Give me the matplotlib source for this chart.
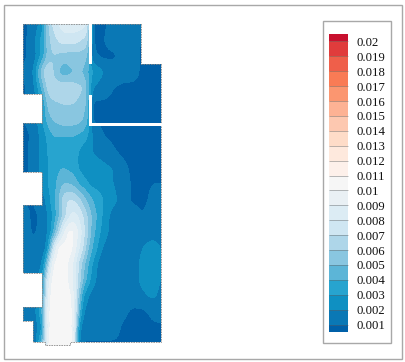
#!/usr/bin/env python3

import numpy as np
import matplotlib
matplotlib.use('Agg') # For headless use.
import matplotlib.pyplot as plt
from matplotlib.patches import Polygon, Rectangle
from matplotlib.colors import ListedColormap, BoundaryNorm


# DATA (positions in picture pixels, values in units of 0.001)
x_grid = [23, 33, 43, 48, 53, 58, 63, 68, 73, 78, 83, 88, 92, 103, 113, 123, 133, 143, 153, 163]
y_grid = [24, 40, 56, 72, 88, 104, 120, 136, 152, 168, 184, 200, 216, 232, 248,
          264, 280, 296, 312, 328, 345]
field = [
    [0.7, 1.3, 2.5, 6.0, 7.2, 8.0, 8.5, 8.6, 8.6, 8.6, 8.5, 7.5, 0.8, 0.8, 1.3, 1.5, 1.5, 0.8, 0.8, 0.8],
    [0.7, 1.5, 3.5, 5.5, 6.5, 7.0, 7.5, 7.5, 7.5, 7.2, 6.8, 6.5, 0.9, 0.9, 1.5, 1.5, 1.5, 0.8, 0.8, 0.8],
    [0.8, 1.3, 3.5, 5.5, 6.0, 5.8, 5.5, 5.5, 5.5, 5.5, 5.5, 5.0, 1.2, 0.8, 0.8, 1.4, 1.4, 0.8, 0.8, 0.8],
    [1.0, 1.8, 6.0, 7.0, 6.0, 5.0, 4.3, 4.5, 5.0, 5.0, 5.0, 4.0, 3.0, 2.0, 1.5, 1.4, 1.3, 0.8, 0.8, 0.8],
    [0.8, 1.5, 4.5, 6.5, 6.5, 6.7, 6.8, 6.8, 6.5, 6.3, 6.0, 4.5, 2.0, 1.5, 1.0, 0.8, 0.8, 0.8, 0.8, 0.8],
    [1.0, 1.0, 3.0, 5.5, 5.8, 5.9, 6.0, 6.0, 6.0, 5.8, 5.5, 4.5, 0.8, 0.8, 0.8, 0.8, 0.8, 0.8, 0.8, 0.8],
    [1.0, 1.2, 3.0, 4.5, 5.0, 5.3, 5.5, 5.5, 5.5, 5.3, 5.0, 4.0, 0.8, 0.8, 0.8, 0.8, 0.8, 0.8, 0.8, 0.8],
    [0.8, 1.1, 2.5, 3.2, 4.0, 4.0, 4.0, 4.0, 4.0, 3.8, 3.5, 3.0, 2.0, 1.0, 0.8, 0.8, 0.8, 0.8, 0.8, 0.8],
    [0.8, 1.2, 2.5, 3.0, 3.5, 3.5, 3.5, 3.5, 3.5, 3.0, 2.5, 2.2, 2.0, 1.7, 1.1, 0.8, 0.8, 0.8, 0.8, 0.8],
    [0.8, 1.2, 2.5, 3.0, 3.5, 3.8, 4.0, 3.8, 3.5, 3.0, 2.5, 2.3, 2.3, 2.2, 2.0, 1.2, 0.8, 0.8, 0.8, 0.8],
    [0.8, 1.2, 2.5, 3.0, 3.5, 4.2, 5.0, 5.0, 4.8, 4.0, 3.5, 3.0, 2.7, 2.5, 2.0, 1.5, 0.8, 0.8, 1.0, 1.0],
    [0.8, 1.0, 1.5, 2.5, 3.5, 4.5, 6.5, 7.0, 7.0, 6.5, 5.5, 4.7, 4.0, 3.0, 2.3, 1.5, 0.8, 0.8, 1.2, 1.5],
    [1.4, 0.8, 1.2, 2.0, 3.0, 4.5, 6.0, 7.5, 8.5, 8.0, 7.0, 5.8, 4.8, 2.8, 1.5, 1.5, 1.5, 1.0, 1.5, 1.5],
    [1.4, 0.9, 1.2, 2.0, 3.5, 6.0, 8.5, 10.2, 10.2, 9.0, 7.5, 6.0, 4.5, 2.5, 1.5, 1.5, 1.5, 1.5, 1.5, 1.5],
    [1.2, 1.2, 1.3, 2.5, 7.0, 10.2, 10.5, 10.5, 10.0, 8.3, 7.0, 5.0, 4.0, 1.8, 1.5, 1.5, 1.5, 2.0, 2.5, 1.8],
    [1.0, 1.2, 2.0, 5.5, 10.0, 10.5, 10.5, 10.0, 9.0, 7.0, 5.5, 4.0, 3.0, 0.9, 1.5, 1.5, 1.5, 2.3, 2.6, 1.8],
    [1.0, 1.0, 3.0, 8.5, 10.5, 10.5, 10.5, 10.0, 8.8, 7.0, 4.8, 3.5, 2.5, 1.0, 1.5, 1.5, 1.5, 2.3, 2.6, 1.8],
    [1.0, 1.0, 3.5, 9.5, 10.5, 10.5, 10.5, 10.5, 9.5, 6.0, 3.0, 2.0, 1.5, 1.5, 1.5, 1.5, 1.5, 1.8, 2.2, 1.5],
    [1.2, 1.2, 4.0, 10.0, 10.5, 10.5, 10.5, 10.5, 10.0, 5.0, 2.0, 1.5, 1.5, 1.5, 1.5, 1.2, 0.8, 0.8, 1.2, 1.5],
    [0.8, 1.0, 3.0, 10.0, 10.5, 10.5, 10.5, 10.5, 10.0, 3.0, 1.2, 1.5, 1.5, 1.5, 1.5, 0.8, 0.8, 0.8, 0.8, 0.8],
    [0.8, 0.8, 5.0, 10.5, 10.5, 10.5, 10.5, 10.5, 10.5, 2.0, 0.9, 0.8, 0.8, 0.8, 0.8, 0.8, 0.8, 0.8, 0.8, 0.8],
]
tick_values = [0.02, 0.019, 0.018, 0.017, 0.016, 0.015, 0.014, 0.013, 0.012, 0.011,
               0.01, 0.009, 0.008, 0.007, 0.006, 0.005, 0.004, 0.003, 0.002, 0.001]
band_colors = ['#0060a8', '#0a78b5', '#0f90c2', '#27a4cf', '#5cb5d7', '#89c6e0', '#aed6e9',
               '#cfe6f2', '#dcecf4', '#e9f0f4', '#f6f6f6', '#fdf0ea', '#fee9dd', '#fedcc8',
               '#fdc8b0', '#fdb294', '#fb9670', '#f97b55', '#ef5f4a', '#e03c3c', '#c8102e']
# outline of the room
outline_x = [23, 89, 89, 92, 92, 141, 141, 161, 161, 70, 70, 45, 45, 33.5, 33.5, 23, 23,
             42, 42, 23, 23, 42, 42, 23, 23, 42, 42, 23]
outline_y = [24, 24, 24, 24, 24, 24, 64, 64, 342, 342, 345, 345, 342, 342, 321, 321, 307,
             307, 273, 273, 205, 205, 172, 172, 123, 123, 94, 94]


# resample the read-off grid so the bands come out rounded
xs = np.arange(20, 166)
ys = np.arange(20, 349)
coarse = np.array(field) * 0.001
by_row = np.array([np.interp(xs, x_grid, row) for row in coarse])
fine = np.array([np.interp(ys, y_grid, col) for col in by_row.T]).T
kernel = np.ones(5) / 5
for i in range(2):
    pad = np.pad(fine, 2, mode='edge')
    pad = np.apply_along_axis(lambda r: np.convolve(r, kernel, mode='same'), 0, pad)
    pad = np.apply_along_axis(lambda r: np.convolve(r, kernel, mode='same'), 1, pad)
    fine = pad[2:-2, 2:-2]

levels = [0.0] + sorted(tick_values) + [0.021]
cmap = ListedColormap(band_colors)
norm = BoundaryNorm(levels, cmap.N)

# PLOTTING
fig = plt.figure(figsize=(4.06, 3.62), dpi=100)
ax = fig.add_axes([0, 0, 1, 1])
ax.set_xlim(0, 406)
ax.set_ylim(362, 0)
ax.axis('off')

ax.add_patch(Rectangle((4.5, 4.5), 397.5, 354.5, fc='white', ec='#a8a8a8', lw=1.0))

cf = ax.contourf(xs, ys, fine, levels=levels, cmap=cmap, norm=norm)
room = Polygon(np.column_stack([outline_x, outline_y]), closed=True, fc='none',
               ec='#8a8a8a', lw=0.6, ls=(0, (2, 1)), zorder=3)
ax.add_patch(room)
cf.set_clip_path(room)

# partition walls
for x0, y0, w, h in ((88.7, 23, 3, 41), (88.7, 95, 3, 31), (88.7, 123, 73.5, 3)):
    ax.add_patch(Rectangle((x0, y0), w, h, fc='white', ec='none', zorder=4))

# legend
ax.add_patch(Rectangle((323.5, 20.5), 67.5, 322.5, fc='white', ec='#a8a8a8', lw=1.0))
cax = fig.add_axes([329 / 406, 1 - 332 / 362, 19 / 406, 298 / 362])
cb = fig.colorbar(cf, cax=cax, spacing='proportional', ticks=tick_values, drawedges=True)
cax.set_ylim(0.0005, 0.0205)
cb.outline.set_visible(False)
cb.dividers.set_color('#5f5f5f')
cb.dividers.set_alpha(0.5)
cb.dividers.set_linewidth(0.6)
cax.set_yticklabels(['{:g}'.format(v) for v in tick_values])
cax.tick_params(axis='y', length=0, pad=6, labelsize=9.2, labelcolor='#111111')
for label in cax.get_yticklabels():
    label.set_family('Liberation Serif')

plt.savefig('out.png', dpi=100)
plt.close()
